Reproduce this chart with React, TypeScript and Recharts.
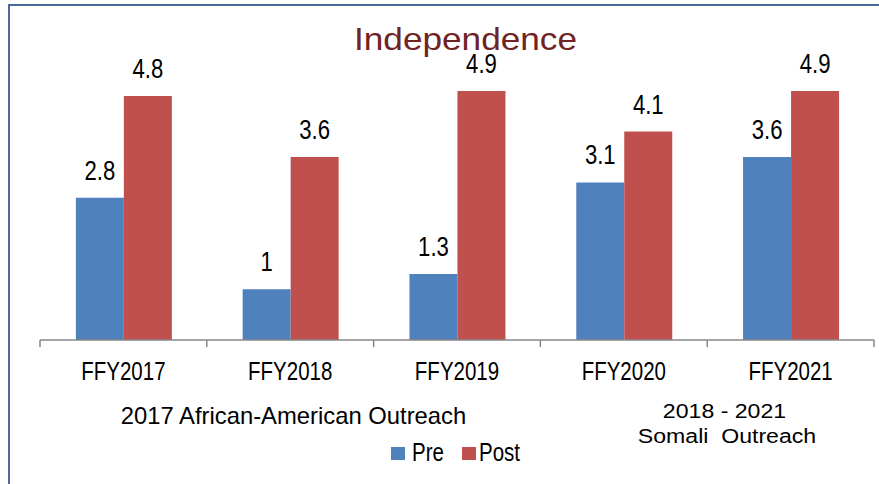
import React from 'react';
import { BarChart, Bar, XAxis, YAxis, LabelList } from 'recharts';

const categories = ['FFY2017', 'FFY2018', 'FFY2019', 'FFY2020', 'FFY2021'];
const preValues = [2.8, 1, 1.3, 3.1, 3.6];
const postValues = [4.8, 3.6, 4.9, 4.1, 4.9];
const seriesNames = ['Pre', 'Post'];
const seriesColors = ['#4F81BD', '#C0504D'];
const titleText = 'Independence';
const noteLeft = ['2017 African-American Outreach'];
const noteRight = ['2018 - 2021', 'Somali  Outreach'];

const data = categories.map((c, i) => ({ name: c, pre: preValues[i], post: postValues[i] }));

const W = 879;
const H = 484;
const MARGIN = { top: 35, right: 5, bottom: 114, left: 40 };
const SANS = "'Liberation Sans', Arial, sans-serif";
const AXIS_COLOR = '#878787';
const NARROW_SCALE = 0.82;

const NarrowText = ({ x, y, size, anchor = 'middle', children }: any) => (
  <text
    transform={`translate(${x},${y}) scale(${NARROW_SCALE},1)`}
    textAnchor={anchor}
    fontSize={size}
    fontFamily={SANS}
    fill="#000"
  >
    {children}
  </text>
);

const CatTick = (props: any) => {
  const { x, y, payload, index } = props;
  const plotW = W - MARGIN.left - MARGIN.right;
  const count = props.visibleTicksCount || categories.length;
  const axisW = typeof props.width === 'number' && props.width > 100 ? props.width : plotW;
  const half = axisW / count / 2;
  const axisY = y - 7;
  return (
    <g>
      <line x1={x - half} x2={x - half} y1={axisY} y2={axisY + 7} stroke={AXIS_COLOR} strokeWidth={1.5} />
      {index === count - 1 && (
        <line x1={x + half} x2={x + half} y1={axisY} y2={axisY + 7} stroke={AXIS_COLOR} strokeWidth={1.5} />
      )}
      <NarrowText x={x} y={axisY + 40} size={25}>
        {payload.value}
      </NarrowText>
    </g>
  );
};

const ValueLabel = (props: any) => {
  const { x, y, width, value } = props;
  return (
    <NarrowText x={Number(x) + Number(width) / 2} y={Number(y) - 18} size={27}>
      {value}
    </NarrowText>
  );
};

export default function App() {
  return (
    <div style={{ position: 'absolute', left: 0, top: 0, width: W, height: H, background: '#fff', overflow: 'hidden' }}>
      <div
        style={{
          position: 'absolute',
          left: 8,
          top: 4,
          width: 940,
          height: 560,
          borderTop: '2px solid #4A6B9C',
          borderLeft: '2px solid #4A6B9C',
          boxSizing: 'border-box',
        }}
      />
      <div style={{ position: 'absolute', left: 0, top: 0 }}>
        <BarChart width={W} height={H} data={data} margin={MARGIN} barCategoryGap="21.5%" barGap={0}>
          <XAxis
            dataKey="name"
            height={30}
            interval={0}
            tickLine={false}
            tickSize={7}
            tickMargin={0}
            axisLine={{ stroke: AXIS_COLOR, strokeWidth: 1.5 }}
            tick={<CatTick />}
          />
          <YAxis hide domain={[0, 6]} />
          <Bar dataKey="pre" name={seriesNames[0]} fill={seriesColors[0]} isAnimationActive={false}>
            <LabelList dataKey="pre" content={<ValueLabel />} />
          </Bar>
          <Bar dataKey="post" name={seriesNames[1]} fill={seriesColors[1]} isAnimationActive={false}>
            <LabelList dataKey="post" content={<ValueLabel />} />
          </Bar>
        </BarChart>
      </div>
      <svg width={W} height={H} style={{ position: 'absolute', left: 0, top: 0, pointerEvents: 'none' }}>
        <text
          transform="translate(465.5,50) scale(1.135,1)"
          textAnchor="middle"
          fontSize={31}
          fontFamily={SANS}
          fill="#6F2323"
        >
          {titleText}
        </text>
        <text transform="translate(293.5,424) scale(1.036,1)" textAnchor="middle" fontSize={23} fontFamily={SANS} fill="#000">
          {noteLeft[0]}
        </text>
        <text transform="translate(724.5,418) scale(1.1,1)" textAnchor="middle" fontSize={21} fontFamily={SANS} fill="#000" style={{ whiteSpace: 'pre' }}>
          {noteRight[0]}
        </text>
        <text transform="translate(727,443) scale(1.1,1)" textAnchor="middle" fontSize={21} fontFamily={SANS} fill="#000" style={{ whiteSpace: 'pre' }}>
          {noteRight[1]}
        </text>
        <rect x={391} y={447} width={14} height={13} fill={seriesColors[0]} />
        <NarrowText x={412} y={461} size={25} anchor="start">{seriesNames[0]}</NarrowText>
        <rect x={462} y={447} width={14} height={13} fill={seriesColors[1]} />
        <NarrowText x={479} y={461} size={25} anchor="start">{seriesNames[1]}</NarrowText>
      </svg>
    </div>
  );
}
